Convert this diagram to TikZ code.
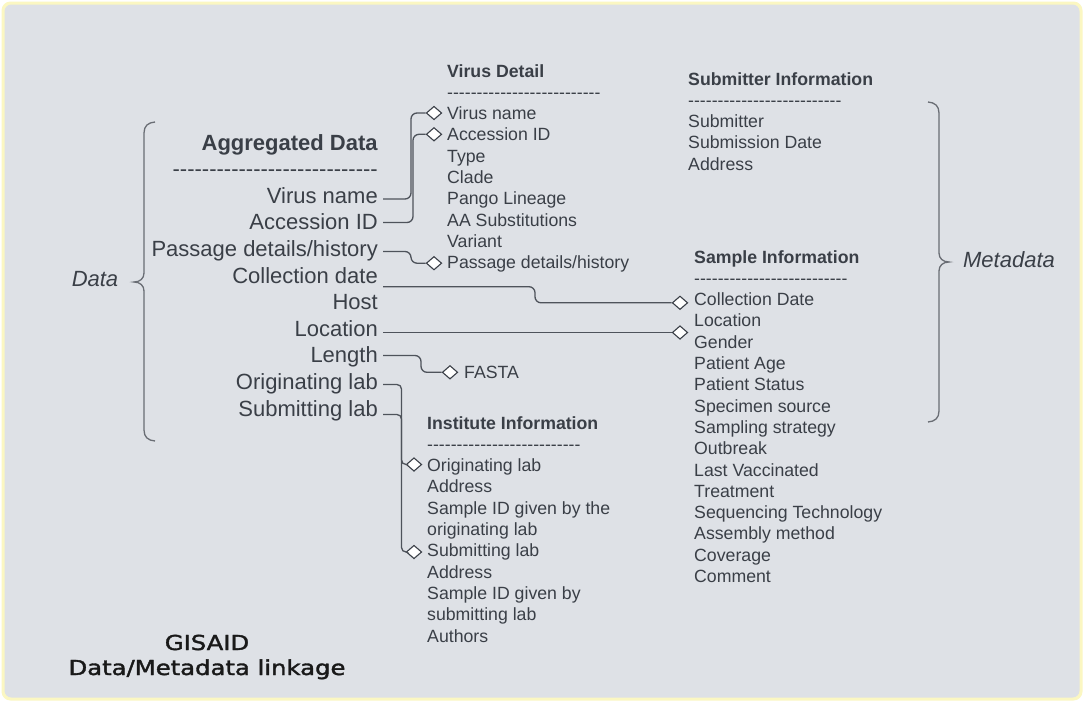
\documentclass[tikz,border=0pt]{standalone}
\usepackage{fontspec}
\setmainfont{Liberation Sans}
\newfontfamily\titlefont[FakeBold=1.6]{DejaVu Sans}
\usetikzlibrary{shapes.geometric}

\definecolor{panel}{HTML}{DEE1E6}
\definecolor{rim}{HTML}{FBF7C2}
\definecolor{ink}{HTML}{3A3F47}
\definecolor{wire}{HTML}{4E535B}

% a row of n separate hyphens (kerns keep them from merging into dashes)
\ExplSyntaxOn
\cs_new:Npn \dashline #1 { \prg_replicate:nn {#1} { - \kern0pt } }
\ExplSyntaxOff

\begin{document}
\begin{tikzpicture}[x=1pt,y=-1pt,
  bigtxt/.style={inner sep=0pt, text=ink, font=\fontsize{22}{26.6}\selectfont, anchor=base east},
  smalltxt/.style={inner sep=0pt, text=ink, font=\fontsize{17.7}{21.3}\selectfont, anchor=base west},
  sidetxt/.style={inner sep=0pt, text=ink, font=\fontsize{22}{26}\selectfont\itshape},
  ttl/.style={inner sep=0pt, text=black!90, font=\titlefont\fontsize{20.6}{25}\selectfont, anchor=base},
  dia/.style={diamond, draw=ink, fill=white, line width=1.1pt, inner sep=0pt,
    minimum width=15.5pt, minimum height=13.5pt},
  wireline/.style={draw=wire, line width=1.3pt, rounded corners=6pt},
  brace/.style={draw=wire!85, line width=1.3pt}
]
% frame
\useasboundingbox (0,0) rectangle (1084,702);
\fill[white] (0,0) rectangle (1084,702);
\fill[rim, rounded corners=9pt] (1.5,1.5) rectangle (1082.5,700.5);
\fill[panel, rounded corners=7pt] (4.5,4.5) rectangle (1079.5,697.5);

% left column: aggregated data
\foreach [count=\i from 0] \t in {{\textbf{Aggregated Data}}, {\dashline{28}},
  Virus name, Accession ID, Passage details/history, Collection date, Host,
  Location, Length, Originating lab, Submitting lab}
  \node[bigtxt] (ag\i) at (378,{150+26.6*\i}) {\t};

% virus detail
\foreach [count=\i from 0] \t in {{\textbf{Virus Detail}}, {\dashline{26}},
  Virus name, Accession ID, Type, Clade, Pango Lineage, AA Substitutions,
  Variant, Passage details/history}
  \node[smalltxt] (vd\i) at (447,{77+21.3*\i}) {\t};

% submitter information
\foreach [count=\i from 0] \t in {{\textbf{Submitter Information}}, {\dashline{26}},
  Submitter, Submission Date, Address}
  \node[smalltxt] (si\i) at (688,{85+21.3*\i}) {\t};

% sample information
\foreach [count=\i from 0] \t in {{\textbf{Sample Information}}, {\dashline{26}},
  Collection Date, Location, Gender, Patient Age, Patient Status, Specimen source,
  Sampling strategy, Outbreak, Last Vaccinated, Treatment, Sequencing Technology,
  Assembly method, Coverage, Comment}
  \node[smalltxt] (sa\i) at (694,{263+21.3*\i}) {\t};

% institute information
\foreach [count=\i from 0] \t in {{\textbf{Institute Information}}, {\dashline{26}},
  Originating lab, Address, Sample ID given by the, originating lab, Submitting lab,
  Address, Sample ID given by, submitting lab, Authors}
  \node[smalltxt] (ii\i) at (427,{429+21.3*\i}) {\t};

\node[smalltxt] (fasta) at (464,378) {FASTA};

% braces and their labels
\draw[brace] (155,122) .. controls (148,122.5) and (144,126) .. (144,133)
  -- (144,273) .. controls (144,278.5) and (140,282) .. (134,282)
  .. controls (140,282) and (144,285.5) .. (144,291)
  -- (144,430) .. controls (144,437) and (148,440.5) .. (155,441);
\node[sidetxt] (datalbl) at (95,279) {Data};

\draw[brace] (928,102) .. controls (935,102.5) and (939,106) .. (939,113)
  -- (939,253) .. controls (939,258.5) and (943,262) .. (949,262)
  .. controls (943,262) and (939,265.5) .. (939,271)
  -- (939,411) .. controls (939,418) and (935,421.5) .. (928,422);
\node[sidetxt] (metalbl) at (1009,260) {Metadata};

% connector start points beside the aggregated fields
\coordinate (a1) at (383,199);
\coordinate (a2) at (383,222.5);
\coordinate (a3) at (383,251.5);
\coordinate (a4) at (383,286.7);
\coordinate (a5) at (383,332.5);
\coordinate (a6) at (383,355.5);
\coordinate (a7) at (383,384.5);
\coordinate (a8) at (383,414.5);

% diamond ends
\node[dia] (d1) at (434,113) {};
\node[dia] (d2) at (434,134.3) {};
\node[dia] (d3) at (434,263.2) {};
\node[dia] (d4) at (680,302.8) {};
\node[dia] (d5) at (680,332.5) {};
\node[dia] (d6) at (450,372.3) {};
\node[dia] (d7) at (414,464.5) {};
\node[dia] (d8) at (414,552) {};

% connectors
\draw[wireline] (a1) -- ++(28,0) |- (d1.west);
\draw[wireline] (a2) -- ++(30,0) |- (d2.west);
\draw[wireline] (a3) -- ++(28,0) |- (d3.west);
\draw[wireline] (a4) -- ++(152,0) |- (d4.west);
\draw[wireline] (a5) -- (d5.west);
\draw[wireline] (a6) -- ++(38,0) |- (d6.west);
\draw[wireline, rounded corners=4.5pt] (a7) -- ++(18.5,0) |- (d7.west);
\draw[wireline, rounded corners=4.5pt] (a8) -- ++(18.5,0) |- (d8.west);

% title
\node[ttl] (ttl1) at (207,650) {\scalebox{1.18}[1]{GISAID}};
\node[ttl] (ttl2) at (207,675) {\scalebox{1.18}[1]{Data/Metadata linkage}};
\end{tikzpicture}
\end{document}
